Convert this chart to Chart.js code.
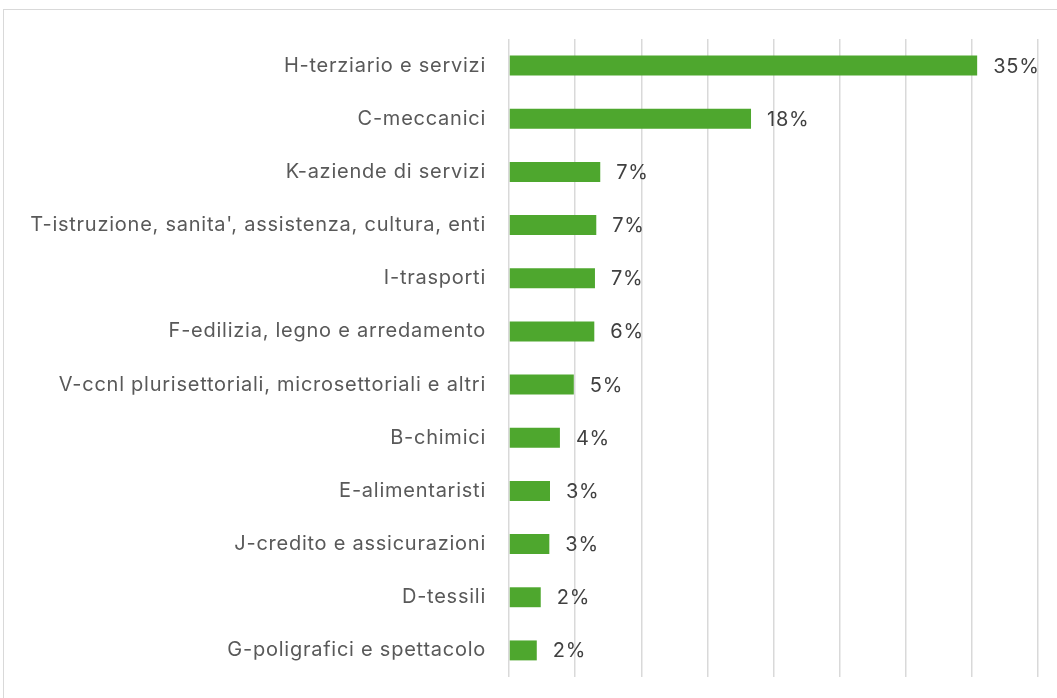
<!DOCTYPE html>
<html>
<head>
<meta charset="utf-8">
<script src="https://cdn.jsdelivr.net/npm/chart.js@4"></script>
<style>
  body { margin: 0; background: #fff; }
  #frame { position: absolute; left: 3px; top: 9px; width: 1100px; height: 740px; border: 1px solid #d9d9d9; box-sizing: border-box; }
  #chart { position: absolute; left: 0; top: 0; }
</style>
</head>
<body>
<div id="frame"></div>
<canvas id="chart" width="1057" height="698"></canvas>
<script>
const categorie = [
  'H-terziario e servizi',
  'C-meccanici',
  'K-aziende di servizi',
  "T-istruzione, sanita', assistenza, cultura, enti",
  'I-trasporti',
  'F-edilizia, legno e arredamento',
  'V-ccnl plurisettoriali, microsettoriali e altri',
  'B-chimici',
  'E-alimentaristi',
  'J-credito e assicurazioni',
  'D-tessili',
  'G-poligrafici e spettacolo'
];
const quote = [35.4, 18.3, 6.9, 6.6, 6.5, 6.45, 4.9, 3.85, 3.1, 3.05, 2.4, 2.1];
const etichette = ['35%', '18%', '7%', '7%', '7%', '6%', '5%', '4%', '3%', '3%', '2%', '2%'];

const fontFam = "Inter, sans-serif";

// spaziatura un po' più larga, come nell'originale
const spacing = {
  id: 'spacing',
  beforeDraw(chart) { chart.ctx.letterSpacing = '0.75px'; }
};

// etichette dei valori a destra delle barre
const valueLabels = {
  id: 'valueLabels',
  afterDatasetsDraw(chart) {
    const c = chart.ctx;
    const meta = chart.getDatasetMeta(0);
    c.save();
    c.font = '20px ' + fontFam;
    c.fillStyle = '#404040';
    c.textAlign = 'left';
    c.textBaseline = 'middle';
    meta.data.forEach((bar, i) => {
      c.fillText(etichette[i], bar.x + 16, bar.y + 1);
    });
    c.restore();
  }
};

const ctx = document.getElementById('chart').getContext('2d');
new Chart(ctx, {
  type: 'bar',
  data: {
    labels: categorie,
    datasets: [{
      data: quote,
      backgroundColor: '#4ea72e',
      borderWidth: 0,
      barPercentage: 0.75,
      categoryPercentage: 0.5
    }]
  },
  options: {
    indexAxis: 'y',
    responsive: false,
    animation: false,
    layout: { padding: { left: 0, right: 19, top: 39, bottom: 21 } },
    plugins: {
      legend: { display: false },
      tooltip: { enabled: false }
    },
    scales: {
      x: {
        min: 0,
        max: 40,
        ticks: { display: false, stepSize: 5 },
        grid: { color: '#d9d9d9', lineWidth: 1.5, drawTicks: false },
        border: { display: false }
      },
      y: {
        grid: { display: false, drawTicks: false },
        border: { display: false },
        ticks: {
          color: '#595959',
          padding: 23,
          font: { size: 20, family: fontFam }
        },
        afterFit(scale) {
          scale.width = 509;
          scale.paddingTop = 0;
          scale.paddingBottom = 0;
        }
      }
    }
  },
  plugins: [spacing, valueLabels]
});
</script>
</body>
</html>
